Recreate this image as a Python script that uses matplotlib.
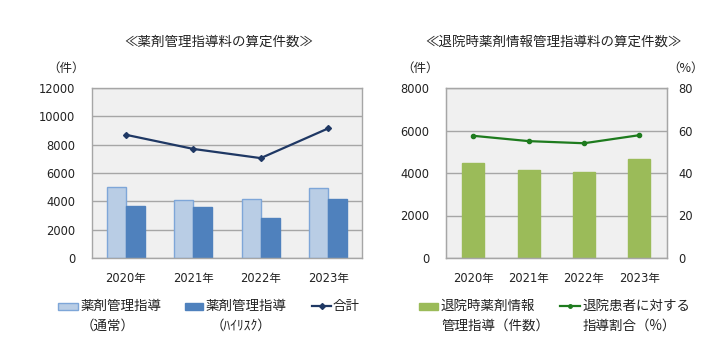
import matplotlib
matplotlib.use("Agg")
import matplotlib.pyplot as plt
from matplotlib.patches import Rectangle
from matplotlib.lines import Line2D
import numpy as np

plt.rcParams['font.family'] = ['Noto Sans CJK JP', 'DejaVu Sans']

years = ["2020年", "2021年", "2022年", "2023年"]
normal = [5000, 4100, 4200, 4950]
highrisk = [3700, 3600, 2850, 4200]
total = [8700, 7700, 7050, 9150]

discharge = [4450, 4150, 4050, 4650]
ratio = [57.5, 55.0, 54.0, 57.8]

W, H = 727, 351
fig = plt.figure(figsize=(W / 100, H / 100), dpi=100)
fig.patch.set_facecolor("white")

def fx(px):
    return px / W

def fy(py):
    return 1 - py / H

NUMFONT = ['DejaVu Sans', 'Noto Sans CJK JP']
grid_c = "#a6a6a6"
spine_c = "#a6a6a6"
TFS = 8.3

def style(ax):
    ax.set_facecolor("#f0f0f0")
    for s in ax.spines.values():
        s.set_color(spine_c)
        s.set_linewidth(1.0)
    ax.tick_params(length=0, labelsize=TFS, colors="#222222")
    ax.yaxis.grid(True, color=grid_c, linewidth=1.0)
    ax.set_axisbelow(True)

# ---------------- Left chart ----------------
ax1 = fig.add_axes([fx(92), fy(258), fx(362 - 92), fy(88) - fy(258)])
style(ax1)
x = np.arange(len(years))
bw = 0.28
ax1.bar(x - bw / 2, normal, bw, color="#b9cde5", edgecolor="#7ea6d8", linewidth=1.0, zorder=2)
ax1.bar(x + bw / 2, highrisk, bw, color="#4f81bd", edgecolor="#4f81bd", linewidth=1.0, zorder=2)
ax1.plot(x, total, color="#1f3864", linewidth=1.6, marker="D", markersize=3, zorder=3)
ax1.set_xlim(-0.5, 3.5)
ax1.set_ylim(0, 12000)
ax1.set_yticks(range(0, 12001, 2000))
ax1.set_xticks(x)
ax1.set_xticklabels(years, fontfamily=NUMFONT)
for lab in ax1.get_yticklabels():
    lab.set_fontfamily(NUMFONT)
ax1.tick_params(axis="y", pad=12)
ax1.tick_params(axis="x", pad=10)

fig.text(fx(219), fy(42), "≪薬剤管理指導料の算定件数≫", ha="center", va="center", fontsize=9.7, color="#222222")
fig.text(fx(66), fy(68), "（件）", ha="center", va="center", fontsize=9, color="#222222")

# ---------------- Right chart ----------------
ax2 = fig.add_axes([fx(445.7), fy(258), fx(667 - 445.7), fy(88) - fy(258)])
style(ax2)
bw2 = 0.4
ax2.bar(x, discharge, bw2, color="#9bbb59", edgecolor="#9bbb59", zorder=2)
ax2.set_xlim(-0.5, 3.5)
ax2.set_ylim(0, 8000)
ax2.set_yticks(range(0, 8001, 2000))
ax2.set_xticks(x)
ax2.set_xticklabels(years, fontfamily=NUMFONT)
for lab in ax2.get_yticklabels():
    lab.set_fontfamily(NUMFONT)
ax2.tick_params(axis="y", pad=12)
ax2.tick_params(axis="x", pad=10)

ax3 = ax2.twinx()
ax3.plot(x, ratio, color="#1e7b1e", linewidth=1.6, marker="o", markersize=3, zorder=3)
ax3.set_ylim(0, 80)
ax3.set_yticks(range(0, 81, 20))
ax3.tick_params(length=0, labelsize=TFS, colors="#222222", pad=8)
for lab in ax3.get_yticklabels():
    lab.set_fontfamily(NUMFONT)
for s in ax3.spines.values():
    s.set_color(spine_c)

fig.text(fx(554), fy(42), "≪退院時薬剤情報管理指導料の算定件数≫", ha="center", va="center", fontsize=9.7, color="#222222")
fig.text(fx(420), fy(68), "（件）", ha="center", va="center", fontsize=9, color="#222222")
fig.text(fx(686), fy(68), "（%）", ha="center", va="center", fontsize=9, color="#222222")

# ---------------- Legends ----------------
def patch(x0, x1, yc, fc, ec):
    r = Rectangle((fx(x0), fy(yc + 3.5)), fx(x1 - x0), fy(yc - 3.5) - fy(yc + 3.5),
                  transform=fig.transFigure, facecolor=fc, edgecolor=ec, linewidth=1.0)
    fig.add_artist(r)

def lline(x0, x1, yc, c, m, ms):
    l = Line2D([fx(x0), fx(x1)], [fy(yc), fy(yc)], transform=fig.transFigure, color=c,
               linewidth=1.6)
    fig.add_artist(l)
    mk = Line2D([fx((x0 + x1) / 2)], [fy(yc)], transform=fig.transFigure, color=c,
                marker=m, markersize=ms, linestyle="none")
    fig.add_artist(mk)

LFS = 9.7
patch(58, 78, 306, "#b9cde5", "#7ea6d8")
fig.text(fx(81), fy(306), "薬剤管理指導", ha="left", va="center", fontsize=LFS, color="#222222")
fig.text(fx(81), fy(326), "（通常）", ha="left", va="center", fontsize=LFS, color="#222222")

patch(185, 203, 306, "#4f81bd", "#4f81bd")
fig.text(fx(206), fy(306), "薬剤管理指導", ha="left", va="center", fontsize=LFS, color="#222222")
fig.text(fx(211), fy(326), "（ﾊｲﾘｽｸ）", ha="left", va="center", fontsize=LFS, color="#222222")

lline(312, 331, 306, "#1f3864", "D", 3)
fig.text(fx(333), fy(306), "合計", ha="left", va="center", fontsize=LFS, color="#222222")

patch(419, 438, 306, "#9bbb59", "#9bbb59")
fig.text(fx(441), fy(306), "退院時薬剤情報", ha="left", va="center", fontsize=LFS, color="#222222")
fig.text(fx(441), fy(326), "管理指導（件数）", ha="left", va="center", fontsize=LFS, color="#222222")

lline(560, 580, 306, "#1e7b1e", "o", 2.5)
fig.text(fx(583), fy(306), "退院患者に対する", ha="left", va="center", fontsize=LFS, color="#222222")
fig.text(fx(583), fy(326), "指導割合（%）", ha="left", va="center", fontsize=LFS, color="#222222")

fig.savefig("out.png", dpi=100, facecolor="white")
